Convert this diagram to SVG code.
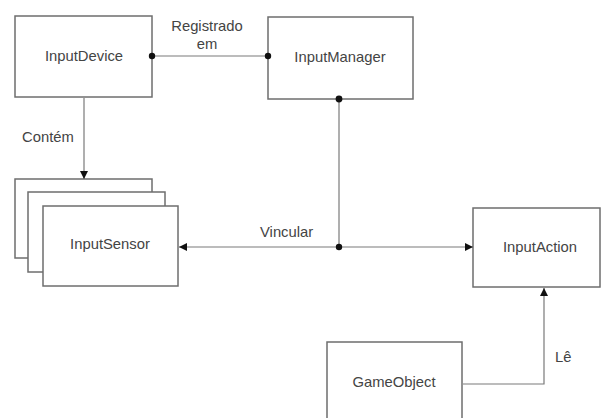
<svg xmlns="http://www.w3.org/2000/svg" width="603" height="418" viewBox="0 0 603 418">
  <style>
    .box { fill: #ffffff; stroke: #6e6e6e; stroke-width: 1.5; }
    .lbl { font-family: "Liberation Sans", Arial, sans-serif; font-size: 14.8px; fill: #444444; }
    .mid { text-anchor: middle; }
    .edge { fill: none; stroke: #7a7a7a; stroke-width: 1.2; }
    .dot { fill: #111111; }
  </style>
  <defs>
    <marker id="arrow" viewBox="0 0 10 10" refX="10" refY="5" markerWidth="8" markerHeight="8" markerUnits="userSpaceOnUse" orient="auto">
      <path d="M0,0 L10,5 L0,10 Z" fill="#111111"/>
    </marker>
  </defs>
  <rect width="603" height="418" fill="#ffffff"/>

  <g id="InputDevice">
    <rect class="box" x="15" y="16" width="137" height="81"/>
    <text class="lbl mid" x="84" y="61">InputDevice</text>
  </g>

  <g id="InputManager">
    <rect class="box" x="268" y="17" width="145" height="82"/>
    <text class="lbl mid" x="340" y="62">InputManager</text>
  </g>

  <g id="InputSensor">
    <rect class="box" x="15" y="179" width="137" height="79"/>
    <rect class="box" x="28" y="192" width="137" height="80"/>
    <rect class="box" x="43" y="206" width="135" height="80"/>
    <text class="lbl mid" x="110" y="249">InputSensor</text>
  </g>

  <g id="InputAction">
    <rect class="box" x="473" y="208" width="127" height="79"/>
    <text class="lbl mid" x="540" y="252">InputAction</text>
  </g>

  <g id="GameObject">
    <rect class="box" x="327" y="342" width="135" height="90"/>
    <text class="lbl mid" x="394" y="387">GameObject</text>
  </g>

  <!-- connectors drawn last so the end dots sit on top of the box edges -->
  <g id="connectors">
    <!-- InputDevice to InputManager -->
    <line class="edge" x1="152" y1="56" x2="268" y2="56"/>
    <circle class="dot" cx="152" cy="56" r="3.2"/>
    <circle class="dot" cx="268" cy="56" r="3.2"/>
    <text class="lbl mid" x="207" y="31">Registrado</text>
    <text class="lbl mid" x="207" y="49">em</text>

    <!-- InputDevice contains InputSensor -->
    <line class="edge" x1="84" y1="98" x2="84" y2="179" marker-end="url(#arrow)"/>
    <text class="lbl" x="22" y="142">Contém</text>

    <!-- InputManager binds sensors and actions -->
    <line class="edge" x1="339" y1="99" x2="339" y2="247"/>
    <line class="edge" x1="339" y1="247" x2="179" y2="247" marker-end="url(#arrow)"/>
    <line class="edge" x1="339" y1="247" x2="473" y2="247" marker-end="url(#arrow)"/>
    <circle class="dot" cx="339" cy="99" r="3.4"/>
    <circle class="dot" cx="339" cy="247" r="3.2"/>
    <text class="lbl" x="260" y="237">Vincular</text>

    <!-- GameObject reads InputAction -->
    <polyline class="edge" points="463,384 544,384 544,288" marker-end="url(#arrow)"/>
    <text class="lbl" x="555" y="362">Lê</text>
  </g>
</svg>
